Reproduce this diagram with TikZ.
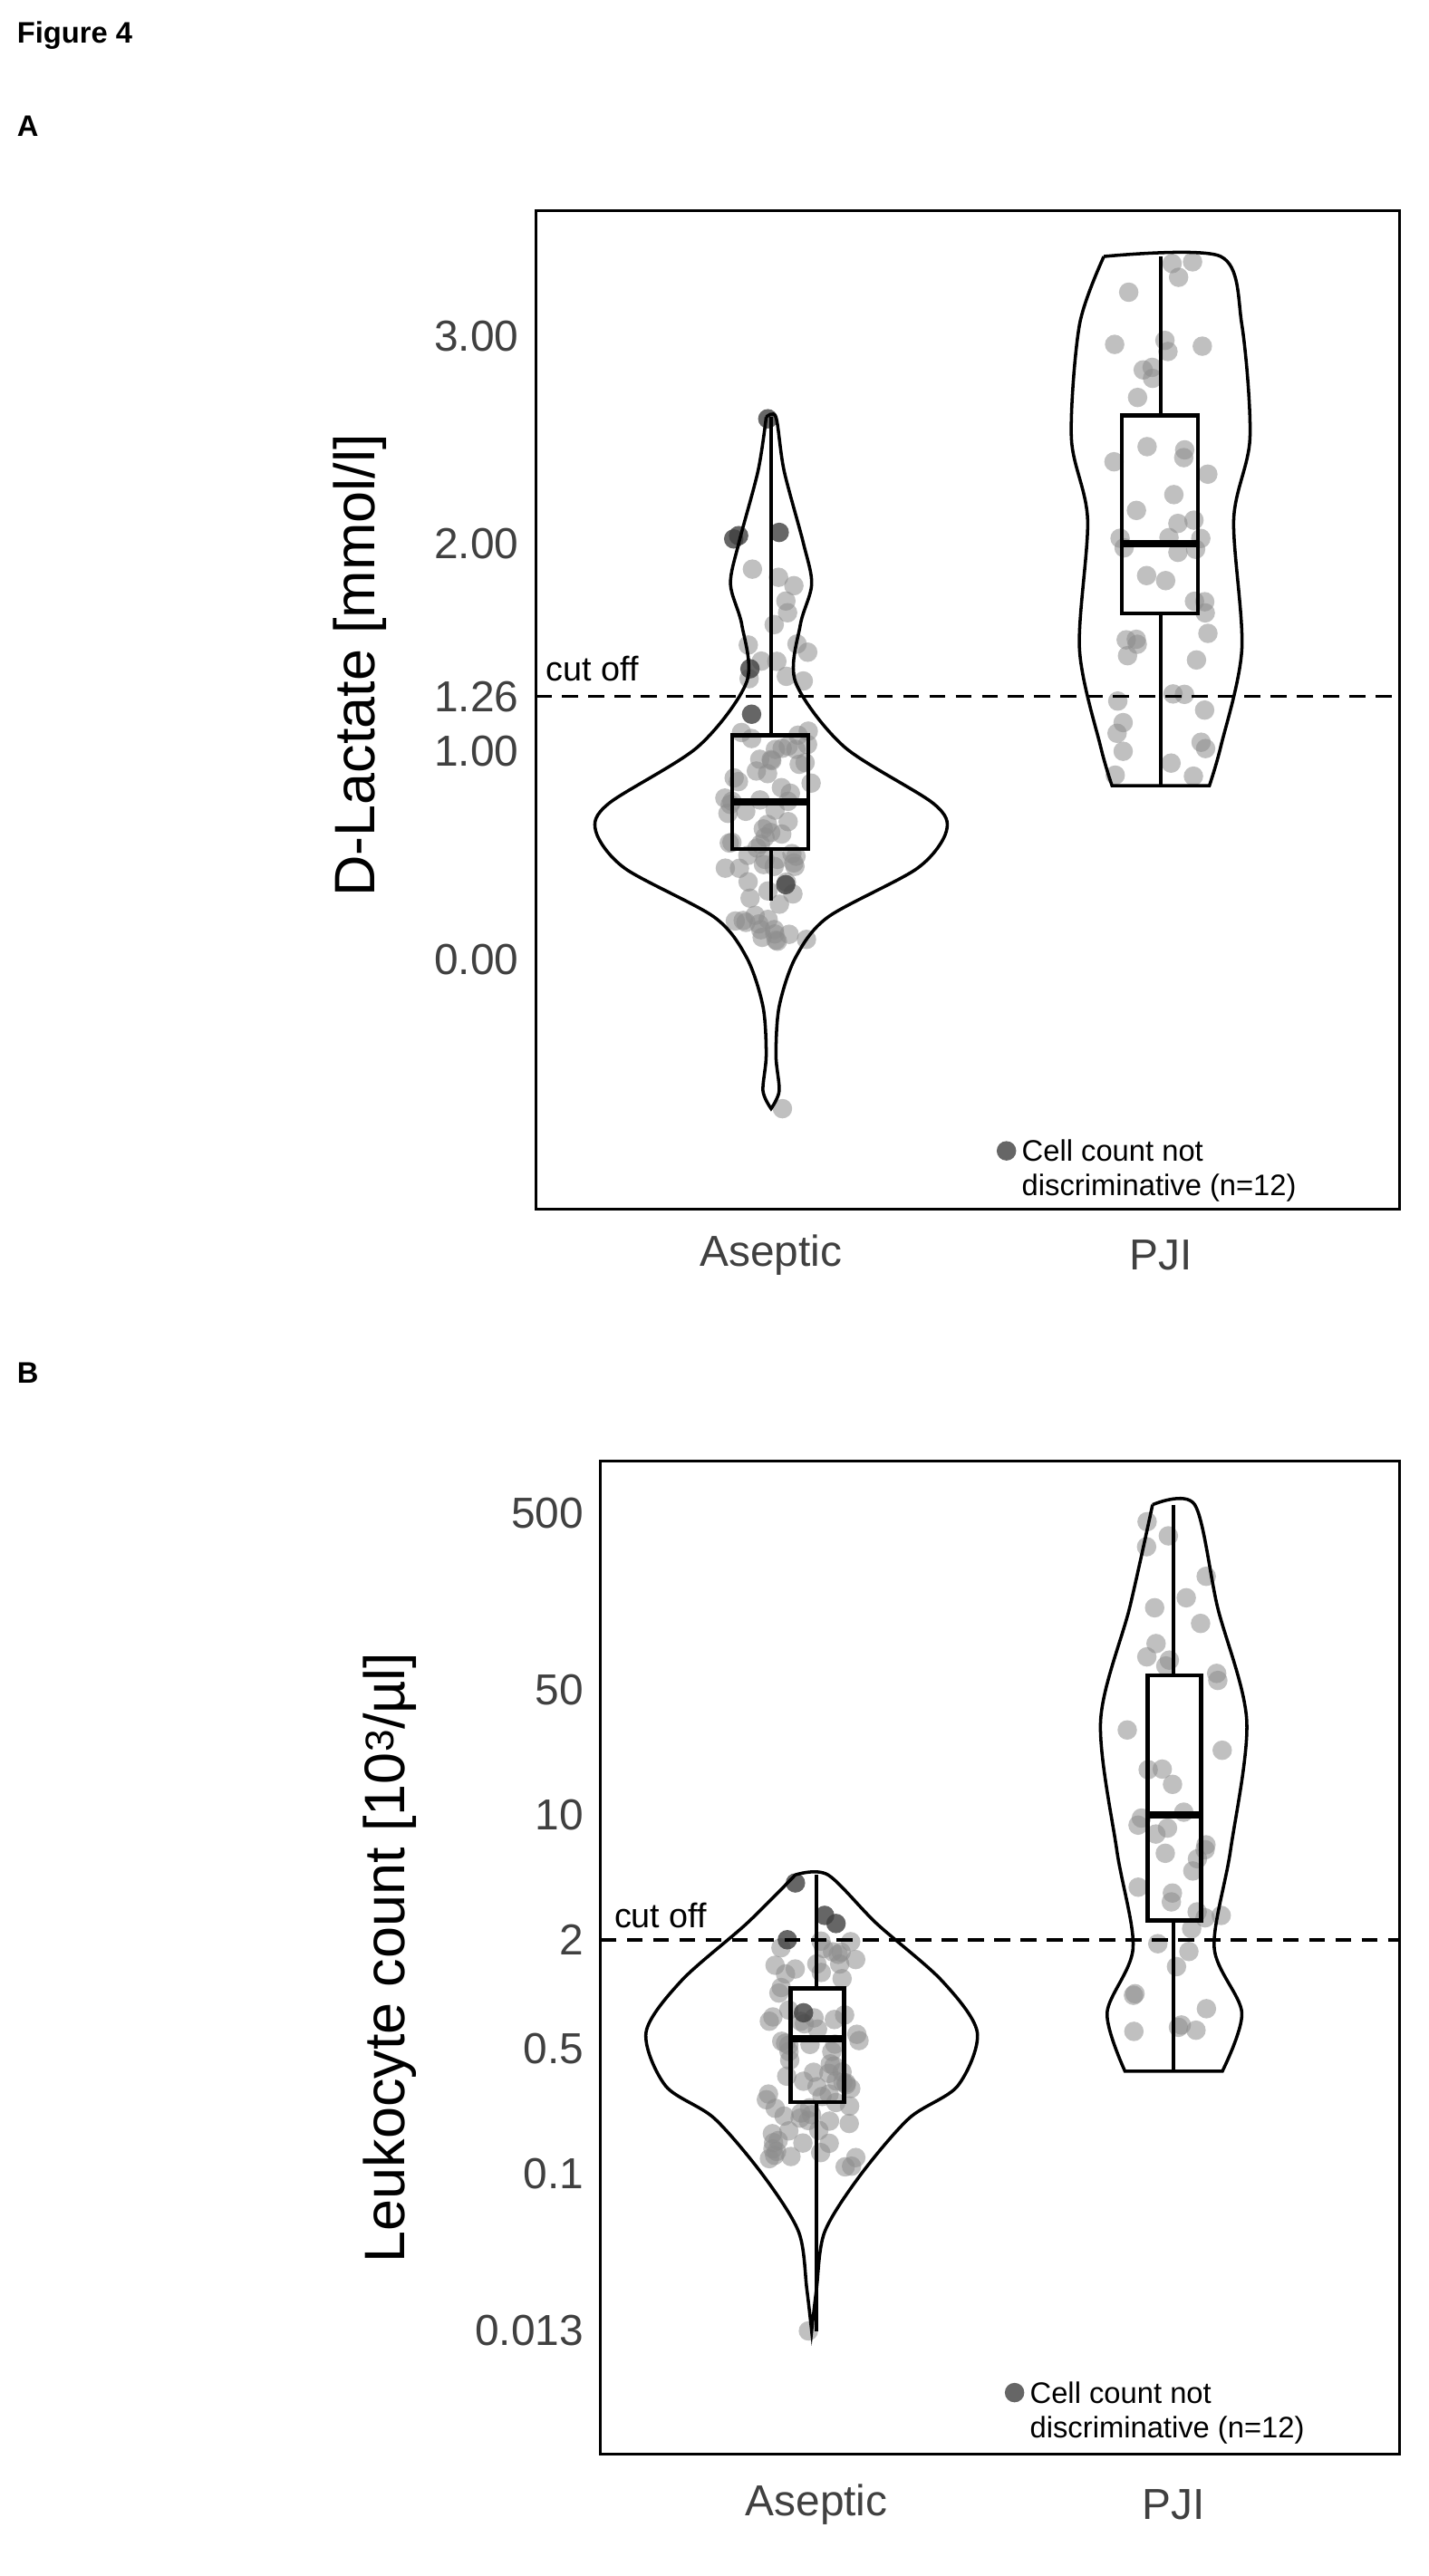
\documentclass[tikz,border=0pt]{standalone}
\usepackage{fontspec}
\setmainfont{Liberation Sans}
\usetikzlibrary{positioning}
\tikzset{
  tick/.style={anchor=east, font=\fontsize{38}{40}\selectfont, text=black!75},
  axlab/.style={rotate=90, font=\fontsize{50}{54}\selectfont},
  catlab/.style={font=\fontsize{38}{40}\selectfont, text=black!75},
  pt/.style={fill=black!45, fill opacity=.55, draw=none},
  ptd/.style={fill=black!75, fill opacity=.8, draw=none},
  viol/.style={draw=black, line width=2.8pt},
  bx/.style={draw=black, line width=3.6pt},
  cut/.style={dashed, line width=2.8pt, dash pattern=on 14pt off 9pt},
  lgd/.style={anchor=west, font=\fontsize{26}{28}\selectfont}
}
\begin{document}
\begin{tikzpicture}[x=0.05cm, y=-0.05cm]
\useasboundingbox (0,0) rectangle (880,1587);
\pgfmathsetseed{7}
% headers
\node[anchor=west, font=\bfseries\fontsize{26}{28}\selectfont] (fig) at (8,22) {Figure 4};
\node[anchor=west, font=\bfseries\fontsize{26}{28}\selectfont] (pa) at (8,78) {A};
\node[anchor=west, font=\bfseries\fontsize{26}{28}\selectfont] (pb) at (8,846) {B};

% ---- panel A ----
\draw[line width=2.4pt] (330,130) rectangle (862,745);
\foreach \v/\y in {3.00/207, 2.00/335, 1.26/429, 1.00/463, 0.00/591}
  \node[tick] at (322,\y) {\v};
\node[axlab] (ya) at (222,410) {D-Lactate [mmol/l]};
\node[catlab] (asa) at (475,773) {Aseptic};
\node[catlab] (pja) at (715,773) {PJI};
% points
\foreach \i in {1,...,70}{
  \pgfmathsetmacro\px{475+30*rand}
  \pgfmathsetmacro\py{515+65*rand}
  \fill[pt] (\px,\py) circle (6);}
\foreach \i in {1,...,14}{
  \pgfmathsetmacro\px{475+24*rand}
  \pgfmathsetmacro\py{380+45*rand}
  \fill[pt] (\px,\py) circle (6);}
\foreach \i in {1,...,50}{
  \pgfmathsetmacro\px{715+30*rand}
  \pgfmathsetmacro\py{320+160*rand}
  \fill[pt] (\px,\py) circle (6);}
\foreach \p in {(455,330),(463,440),(480,328),(462,412),(484,545),(452,332),(473,258)}
  \fill[ptd] \p circle (6);
\fill[pt] (482,683) circle (6);
% violins
\draw[viol] plot[smooth] coordinates {(472,257)(478,257)(483,290)(495,335)(500,360)(493,385)(490,420)(520,460)(575,495)(583,512)(565,535)(510,565)(490,590)(480,620)(478,650)(480,672)(475,683)}
  -- plot[smooth] coordinates {(475,683)(470,672)(472,650)(470,620)(460,590)(440,565)(385,535)(367,512)(375,495)(430,460)(460,420)(457,385)(450,360)(455,335)(467,290)(472,257)};
\draw[viol] plot[smooth] coordinates {(680,158)(752,158)(765,200)(770,270)(760,320)(765,400)(752,460)(745,484)}
  -- (685,484) -- plot[smooth] coordinates {(685,484)(678,460)(665,400)(670,320)(660,270)(665,200)(680,158)};
% boxes
\draw[bx] (475,257) -- (475,453) (475,523) -- (475,555);
\draw[bx] (451,453) rectangle (498,523);
\draw[bx, line width=6pt] (451,494) -- (498,494);
\draw[bx] (715,158) -- (715,256) (715,378) -- (715,484);
\draw[bx] (691,256) rectangle (738,378);
\draw[bx, line width=6pt] (691,335) -- (738,335);
% cut off
\draw[cut] (330,429) -- (862,429);
\node[anchor=west, font=\fontsize{30}{32}\selectfont] (cta) at (334,412) {cut off};
% legend
\fill[ptd] (620,709) circle (6);
\node[lgd] (la1) at (627,709) {Cell count not};
\node[lgd] (la2) at (627,732) {discriminative (n=12)};

% ---- panel B ----
\draw[line width=2.4pt] (370,900) rectangle (862,1512);
\foreach \v/\y in {500/932, 50/1041, 10/1118, 2/1195, 0.5/1262, 0.1/1339, 0.013/1436}
  \node[tick] at (362,\y) {\v};
\node[axlab] (yb) at (240,1206) {Leukocyte count [10\textsuperscript{3}/µl]};
\node[catlab] (asb) at (503,1543) {Aseptic};
\node[catlab] (pjb) at (723,1543) {PJI};
\foreach \i in {1,...,80}{
  \pgfmathsetmacro\px{500+30*rand}
  \pgfmathsetmacro\py{1265+70*rand}
  \fill[pt] (\px,\py) circle (6);}
\foreach \i in {1,...,45}{
  \pgfmathsetmacro\px{723+30*rand}
  \pgfmathsetmacro\py{1100+170*rand}
  \fill[pt] (\px,\py) circle (6);}
\foreach \p in {(490,1160),(508,1180),(515,1185),(485,1195),(495,1240)}
  \fill[ptd] \p circle (6);
\fill[pt] (498,1436) circle (6);
% violins
\draw[viol] plot[smooth] coordinates {(490,1155)(510,1155)(540,1185)(580,1220)(602,1252)(590,1285)(560,1305)(530,1340)(508,1375)(503,1410)(500,1436)}
  -- plot[smooth] coordinates {(500,1436)(497,1410)(492,1375)(470,1340)(440,1305)(410,1285)(398,1252)(420,1220)(460,1185)(490,1155)};
\draw[viol] plot[smooth] coordinates {(710,927)(736,927)(750,990)(768,1060)(758,1140)(748,1200)(765,1240)(753,1276)}
  -- (693,1276) -- plot[smooth] coordinates {(693,1276)(682,1240)(698,1200)(688,1140)(678,1060)(696,990)(710,927)};
\draw[bx] (723,927) -- (723,1032) (723,1183) -- (723,1276);
\draw[bx] (707,1032) rectangle (740,1183);
\draw[bx, line width=6pt] (707,1118) -- (740,1118);
\draw[bx] (503,1155) -- (503,1225) (503,1295) -- (503,1436);
\draw[bx] (487,1225) rectangle (520,1295);
\draw[bx, line width=6pt] (487,1256) -- (520,1256);
\draw[cut] (370,1195) -- (862,1195);
\node[anchor=west, font=\fontsize{30}{32}\selectfont] (ctb) at (376,1180) {cut off};
\fill[ptd] (625,1474) circle (6);
\node[lgd] (lb1) at (632,1474) {Cell count not};
\node[lgd] (lb2) at (632,1497) {discriminative (n=12)};
\end{tikzpicture}
\end{document}
